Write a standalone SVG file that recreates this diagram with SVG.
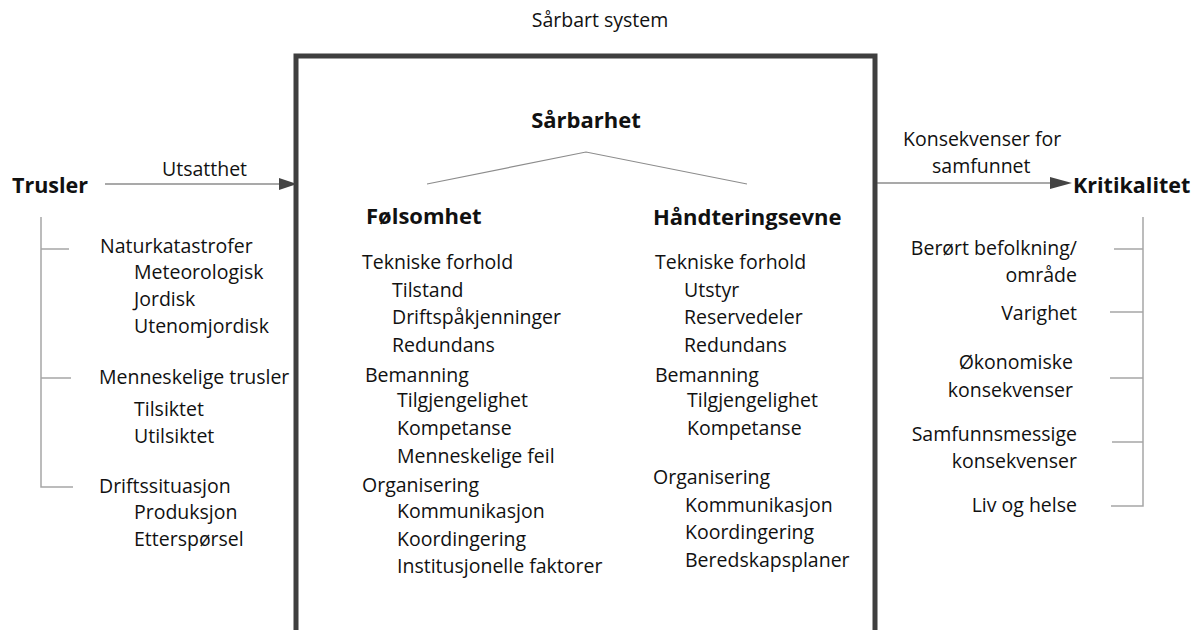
<svg xmlns="http://www.w3.org/2000/svg" width="1196" height="630" viewBox="0 0 1196 630">
  <style>
    text { font-family: "Open Sans", "Noto Sans", sans-serif; fill: #111; }
    .t { font-size: 19.5px; }
    .h { font-size: 22px; font-weight: bold; }
    .hb { font-size: 21.5px; font-weight: bold; }
    .end { text-anchor: end; }
    .mid { text-anchor: middle; }
    .tree { stroke: #a6a6a6; stroke-width: 1.5; fill: none; }
    .arrow { stroke: #555; stroke-width: 1.2; fill: none; }
    .head { fill: #444; }
    .fork { stroke: #8c8c8c; stroke-width: 1.2; fill: none; }
  </style>

  <rect width="1196" height="630" fill="#fff"/>

  <!-- Sårbart system: open-bottom frame -->
  <g id="system">
    <text class="t mid" x="600" y="27">Sårbart system</text>
    <rect x="296" y="56" width="579" height="620" fill="none" stroke="#3f3f3f" stroke-width="5"/>
  </g>

  <!-- Sårbarhet with its two branches -->
  <g id="sarbarhet">
    <text class="h mid" x="586" y="128">Sårbarhet</text>
    <polyline class="fork" points="427,184 586,152 747,184"/>
  </g>

  <g id="folsomhet">
    <text class="h" x="366" y="224">Følsomhet</text>
    <text class="t" x="362" y="269">Tekniske forhold</text>
    <text class="t" x="392" y="297">Tilstand</text>
    <text class="t" x="392" y="324">Driftspåkjenninger</text>
    <text class="t" x="392" y="352">Redundans</text>
    <text class="t" x="365" y="382">Bemanning</text>
    <text class="t" x="397" y="407">Tilgjengelighet</text>
    <text class="t" x="397" y="435">Kompetanse</text>
    <text class="t" x="397" y="463">Menneskelige feil</text>
    <text class="t" x="362" y="492">Organisering</text>
    <text class="t" x="397" y="518">Kommunikasjon</text>
    <text class="t" x="397" y="546">Koordingering</text>
    <text class="t" x="397" y="573">Institusjonelle faktorer</text>
  </g>

  <g id="handteringsevne">
    <text class="h" x="653" y="225">Håndteringsevne</text>
    <text class="t" x="655" y="269">Tekniske forhold</text>
    <text class="t" x="684" y="297">Utstyr</text>
    <text class="t" x="684" y="324">Reservedeler</text>
    <text class="t" x="684" y="352">Redundans</text>
    <text class="t" x="655" y="382">Bemanning</text>
    <text class="t" x="687" y="407">Tilgjengelighet</text>
    <text class="t" x="687" y="435">Kompetanse</text>
    <text class="t" x="653" y="484">Organisering</text>
    <text class="t" x="685" y="512">Kommunikasjon</text>
    <text class="t" x="685" y="539">Koordingering</text>
    <text class="t" x="685" y="567">Beredskapsplaner</text>
  </g>

  <g id="trusler">
    <text class="hb" x="12" y="193">Trusler</text>
    <text class="t" x="100" y="253">Naturkatastrofer</text>
    <text class="t" x="134" y="279">Meteorologisk</text>
    <text class="t" x="134" y="306">Jordisk</text>
    <text class="t" x="134" y="333">Utenomjordisk</text>
    <text class="t" x="99" y="384">Menneskelige trusler</text>
    <text class="t" x="134" y="416">Tilsiktet</text>
    <text class="t" x="134" y="443">Utilsiktet</text>
    <text class="t" x="99" y="493">Driftssituasjon</text>
    <text class="t" x="134" y="519">Produksjon</text>
    <text class="t" x="134" y="546">Etterspørsel</text>
  </g>

  <g id="kritikalitet">
    <text class="hb" x="1073" y="193">Kritikalitet</text>
    <text class="t end" x="1077" y="255">Berørt befolkning/</text>
    <text class="t end" x="1077" y="282">område</text>
    <text class="t end" x="1077" y="320">Varighet</text>
    <text class="t end" x="1073" y="369">Økonomiske</text>
    <text class="t end" x="1073" y="397">konsekvenser</text>
    <text class="t end" x="1077" y="441">Samfunnsmessige</text>
    <text class="t end" x="1077" y="468">konsekvenser</text>
    <text class="t end" x="1077" y="512">Liv og helse</text>
  </g>

  <!-- connectors -->
  <g id="connectors">
    <line class="arrow" x1="105" y1="184" x2="281" y2="184"/>
    <polygon class="head" points="279,178 297,184 279,190"/>
    <text class="t" x="162" y="176">Utsatthet</text>

    <line class="arrow" x1="877" y1="183" x2="1052" y2="183"/>
    <polygon class="head" points="1050,177 1072,183 1050,189"/>
    <text class="t" x="903" y="146">Konsekvenser for</text>
    <text class="t" x="932" y="173">samfunnet</text>

    <polyline class="tree" points="41,217 41,487 73,487"/>
    <line class="tree" x1="41" y1="249" x2="69" y2="249"/>
    <line class="tree" x1="41" y1="378" x2="71" y2="378"/>

    <polyline class="tree" points="1143,217 1143,506 1111,506"/>
    <line class="tree" x1="1114" y1="249" x2="1143" y2="249"/>
    <line class="tree" x1="1110" y1="312" x2="1143" y2="312"/>
    <line class="tree" x1="1110" y1="378" x2="1143" y2="378"/>
    <line class="tree" x1="1112" y1="442" x2="1143" y2="442"/>
  </g>
</svg>
